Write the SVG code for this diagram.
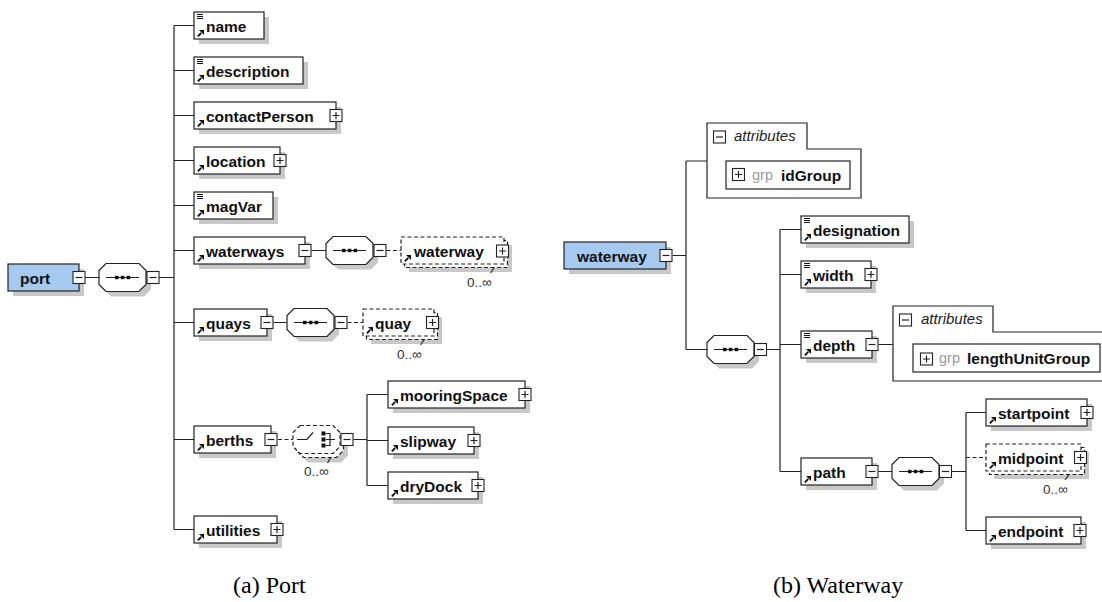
<svg xmlns="http://www.w3.org/2000/svg" width="1102" height="602" viewBox="0 0 1102 602">
<style>
.box{fill:#fff;stroke:#222;stroke-width:1.2}
.root{fill:#a6c9f0;stroke:#222;stroke-width:1.2}
.dbox{fill:#fff;stroke:#222;stroke-width:1.2;stroke-dasharray:4 2.5}
.sh{fill:#c8c8c8}
.ln{stroke:#222;stroke-width:1.2;fill:none}
.dl{stroke:#222;stroke-width:1.2;fill:none;stroke-dasharray:4 2.5}
.btn{fill:#fff;stroke:#222;stroke-width:1.1}
.t{font-family:"Liberation Sans",Arial,sans-serif;font-weight:bold;font-size:15.5px;fill:#111}
.it{font-family:"Liberation Sans",Arial,sans-serif;font-style:italic;font-size:15px;fill:#222}
.grp{font-family:"Liberation Sans",Arial,sans-serif;font-size:14.5px;fill:#9a9a9a}
.occ{font-family:"Liberation Sans",Arial,sans-serif;font-size:13.5px;fill:#333}
.cap{font-family:"Liberation Serif","Times New Roman",serif;font-size:24px;fill:#000}
</style>
<defs>
<g id="iDoc"><path d="M0,0.5h6M0,2.5h6M0,4.5h6" stroke="#111" stroke-width="1" fill="none"/></g>
<g id="iArr"><path d="M0.8,6.4 L4.2,3" stroke="#111" stroke-width="1.8" fill="none"/><path d="M2,0 H7 V5 Z" fill="#111"/></g>
<g id="bMinus"><rect x="0.5" y="0.5" width="12" height="12" class="btn"/><path d="M3,6.5h7" class="ln"/></g>
<g id="bPlus"><rect x="0.5" y="0.5" width="12" height="12" class="btn"/><path d="M3,6.5h7M6.5,3v7" class="ln"/></g>
<g id="seq">
<path d="M12,5 H45 L52,12 V26 L45,33 H12 L5,26 V12 Z" class="sh"/>
<path d="M7,0 H40 L47,7 V21 L40,28 H7 L0,21 V7 Z" class="box"/>
<path d="M7,14 H40" class="ln"/>
<rect x="16" y="12.3" width="3.6" height="3.4" fill="#111"/>
<rect x="21.8" y="12.3" width="3.6" height="3.4" fill="#111"/>
<rect x="27.6" y="12.3" width="3.6" height="3.4" fill="#111"/>
</g>
</defs>

<g id="connectors">
<!-- port -->
<path d="M85,277.5H99M159,277.5H174M174,25.5V529.5" class="ln"/>
<path d="M174,25.5H194M174,70.5H194M174,115.5H194M174,160.5H194M174,205.5H194M174,250.5H194M174,322.5H194M174,439.5H194M174,529.5H194" class="ln"/>
<path d="M311.5,250.5H326M273.5,322.5H287" class="ln"/>
<path d="M386.5,250.5H401M347.5,322.5H363M278,439.5H293" class="dl"/>
<path d="M353.5,439.5H367M367,394.5V485.5M367,394.5H388M367,440.5H388M367,485.5H388" class="ln"/>
<!-- waterway -->
<path d="M672.5,255.5H686M686,161V349.5M686,161H707M686,349.5H707M766.5,349.5H780M780,229.5V471.5" class="ln"/>
<path d="M780,229.5H801M780,274.5H801M780,344.5H801M780,471.5H801M878.5,344.5H893M878.5,471.5H892M951.5,471.5H966M966,412.5V530.5M966,412.5H986M966,530.5H986" class="ln"/>
<path d="M966,457.5H986" class="dl"/>
</g>

<g id="port">
<rect x="13" y="269" width="71" height="27" class="sh"/>
<rect x="8" y="264" width="71" height="27" class="root"/>
<text x="20" y="284" class="t">port</text>
<use href="#bMinus" x="72.5" y="271"/>
</g>
<g id="port-seq"><use href="#seq" x="99" y="263.5"/><use href="#bMinus" x="146.5" y="271"/></g>

<g id="name">
<rect x="199" y="17" width="70" height="27" class="sh"/>
<rect x="194" y="12" width="70" height="27" class="box"/>
<use href="#iDoc" x="197" y="14"/><use href="#iArr" x="197" y="30"/>
<text x="206" y="32" class="t">name</text>
</g>
<g id="description">
<rect x="199" y="62" width="109" height="27" class="sh"/>
<rect x="194" y="57" width="109" height="27" class="box"/>
<use href="#iDoc" x="197" y="59"/><use href="#iArr" x="197" y="75"/>
<text x="206" y="77" class="t">description</text>
</g>
<g id="contactPerson">
<rect x="199" y="107" width="142" height="27" class="sh"/>
<rect x="194" y="102" width="142" height="27" class="box"/>
<use href="#iArr" x="197" y="120"/>
<text x="206" y="122" class="t">contactPerson</text>
<use href="#bPlus" x="329.5" y="109"/>
</g>
<g id="location">
<rect x="199" y="152" width="86" height="27" class="sh"/>
<rect x="194" y="147" width="86" height="27" class="box"/>
<use href="#iArr" x="197" y="165"/>
<text x="206" y="167" class="t">location</text>
<use href="#bPlus" x="273.5" y="154"/>
</g>
<g id="magVar">
<rect x="199" y="197" width="79" height="27" class="sh"/>
<rect x="194" y="192" width="79" height="27" class="box"/>
<use href="#iDoc" x="197" y="194"/><use href="#iArr" x="197" y="210"/>
<text x="206" y="212" class="t">magVar</text>
</g>
<g id="waterways">
<rect x="199" y="242" width="111" height="27" class="sh"/>
<rect x="194" y="237" width="111" height="27" class="box"/>
<use href="#iArr" x="197" y="255"/>
<text x="206" y="257" class="t">waterways</text>
<use href="#bMinus" x="298.5" y="244"/>
</g>
<g id="waterways-seq"><use href="#seq" x="326" y="236.5"/><use href="#bMinus" x="373.5" y="244"/></g>
<g id="waterway-child">
<rect x="409" y="245" width="103" height="27" class="sh"/>
<rect x="404.5" y="240.5" width="103" height="27" class="dbox"/>
<rect x="401" y="237" width="103" height="27" class="dbox"/>
<use href="#iArr" x="404" y="255"/>
<text x="414" y="257" class="t">waterway</text>
<use href="#bPlus" x="496" y="244.5"/>
<path d="M494,268L490.5,273" class="ln"/>
<text x="467" y="287" class="occ">0..∞</text>
</g>
<g id="quays">
<rect x="199" y="314" width="73" height="27" class="sh"/>
<rect x="194" y="309" width="73" height="27" class="box"/>
<use href="#iArr" x="197" y="327"/>
<text x="206" y="329" class="t">quays</text>
<use href="#bMinus" x="260.5" y="316"/>
</g>
<g id="quays-seq"><use href="#seq" x="287" y="308.5"/><use href="#bMinus" x="334.5" y="316"/></g>
<g id="quay">
<rect x="371" y="317" width="71" height="27" class="sh"/>
<rect x="366.5" y="312.5" width="71" height="27" class="dbox"/>
<rect x="363" y="309" width="71" height="27" class="dbox"/>
<use href="#iArr" x="366" y="327"/>
<text x="375" y="329" class="t">quay</text>
<use href="#bPlus" x="426" y="316"/>
<path d="M424,340L420.5,345" class="ln"/>
<text x="397" y="359" class="occ">0..∞</text>
</g>
<g id="berths">
<rect x="199" y="431" width="77" height="27" class="sh"/>
<rect x="194" y="426" width="77" height="27" class="box"/>
<use href="#iArr" x="197" y="444"/>
<text x="206" y="446" class="t">berths</text>
<use href="#bMinus" x="264.5" y="433"/>
</g>
<g id="berths-choice">
<path d="M308,434.5 H341 L348,441.5 V455.5 L341,462.5 H308 L301,455.5 V441.5 Z" class="sh"/>
<path d="M303.5,429.5 H336.5 L343.5,436.5 V450.5 L336.5,457.5 H303.5 L296.5,450.5 V436.5 Z" class="dbox"/>
<path d="M300,425.5 H333 L340,432.5 V446.5 L333,453.5 H300 L293,446.5 V432.5 Z" class="dbox"/>
<path d="M297,439.5H307L313,432.5M326,433.5H330V445.5H326M326,439.5H335" class="ln"/>
<rect x="321.5" y="431.5" width="4" height="4" fill="#111"/>
<rect x="321.5" y="437.5" width="4" height="4" fill="#111"/>
<rect x="321.5" y="443.5" width="4" height="4" fill="#111"/>
<use href="#bMinus" x="340.5" y="433"/>
<path d="M331,457L327.5,463" class="ln"/>
<text x="304" y="476" class="occ">0..∞</text>
</g>
<g id="mooringSpace">
<rect x="393" y="386" width="137" height="27" class="sh"/>
<rect x="388" y="381" width="137" height="27" class="box"/>
<use href="#iArr" x="391" y="399"/>
<text x="400" y="401" class="t">mooringSpace</text>
<use href="#bPlus" x="518.5" y="388"/>
</g>
<g id="slipway">
<rect x="393" y="432" width="86" height="27" class="sh"/>
<rect x="388" y="427" width="86" height="27" class="box"/>
<use href="#iArr" x="391" y="445"/>
<text x="400" y="447" class="t">slipway</text>
<use href="#bPlus" x="467.5" y="434"/>
</g>
<g id="dryDock">
<rect x="393" y="477" width="90" height="27" class="sh"/>
<rect x="388" y="472" width="90" height="27" class="box"/>
<use href="#iArr" x="391" y="490"/>
<text x="400" y="492" class="t">dryDock</text>
<use href="#bPlus" x="471.5" y="479"/>
</g>
<g id="utilities">
<rect x="199" y="521" width="83" height="27" class="sh"/>
<rect x="194" y="516" width="83" height="27" class="box"/>
<use href="#iArr" x="197" y="534"/>
<text x="206" y="536" class="t">utilities</text>
<use href="#bPlus" x="270.5" y="523"/>
</g>

<g id="waterway">
<rect x="569" y="247" width="102" height="27" class="sh"/>
<rect x="564" y="242" width="102" height="27" class="root"/>
<text x="577" y="262" class="t">waterway</text>
<use href="#bMinus" x="659.5" y="249"/>
</g>
<g id="waterway-attributes">
<path d="M707,198V123H807V149H861V198Z" class="box"/>
<use href="#bMinus" x="713" y="130.5"/>
<text x="734" y="141" class="it">attributes</text>
<rect x="726" y="161" width="124" height="28" class="box"/>
<use href="#bPlus" x="732" y="168"/>
<text x="752" y="180" class="grp">grp</text>
<text x="781" y="181" class="t">idGroup</text>
</g>
<g id="waterway-seq"><use href="#seq" x="707" y="335.5"/><use href="#bMinus" x="754" y="343"/></g>
<g id="designation">
<rect x="806" y="221" width="108" height="27" class="sh"/>
<rect x="801" y="216" width="108" height="27" class="box"/>
<use href="#iDoc" x="804" y="218"/><use href="#iArr" x="804" y="234"/>
<text x="813" y="236" class="t">designation</text>
</g>
<g id="width">
<rect x="806" y="266" width="70" height="27" class="sh"/>
<rect x="801" y="261" width="70" height="27" class="box"/>
<use href="#iDoc" x="804" y="263"/><use href="#iArr" x="804" y="279"/>
<text x="813" y="281" class="t">width</text>
<use href="#bPlus" x="864.5" y="268"/>
</g>
<g id="depth">
<rect x="806" y="336" width="71" height="27" class="sh"/>
<rect x="801" y="331" width="71" height="27" class="box"/>
<use href="#iDoc" x="804" y="333"/><use href="#iArr" x="804" y="349"/>
<text x="813" y="351" class="t">depth</text>
<use href="#bMinus" x="865.5" y="338"/>
</g>
<g id="depth-attributes">
<path d="M893,381V306H993V332H1108V381Z" class="box"/>
<use href="#bMinus" x="899" y="313.5"/>
<text x="921" y="324" class="it">attributes</text>
<rect x="913" y="344" width="187" height="28" class="box"/>
<use href="#bPlus" x="920" y="352.5"/>
<text x="939" y="363" class="grp">grp</text>
<text x="967" y="364" class="t">lengthUnitGroup</text>
</g>
<g id="path">
<rect x="806" y="463" width="71" height="27" class="sh"/>
<rect x="801" y="458" width="71" height="27" class="box"/>
<use href="#iArr" x="804" y="476"/>
<text x="813" y="478" class="t">path</text>
<use href="#bMinus" x="865.5" y="465"/>
</g>
<g id="path-seq"><use href="#seq" x="892" y="457.5"/><use href="#bMinus" x="939" y="465"/></g>
<g id="startpoint">
<rect x="991" y="404" width="101" height="27" class="sh"/>
<rect x="986" y="399" width="101" height="27" class="box"/>
<use href="#iArr" x="989" y="417"/>
<text x="998" y="419" class="t">startpoint</text>
<use href="#bPlus" x="1080.5" y="406"/>
</g>
<g id="midpoint">
<rect x="994" y="452" width="95" height="27" class="sh"/>
<rect x="989.5" y="447.5" width="95" height="27" class="dbox"/>
<rect x="986" y="444" width="95" height="27" class="dbox"/>
<use href="#iArr" x="989" y="462"/>
<text x="998" y="464" class="t">midpoint</text>
<use href="#bPlus" x="1074" y="451"/>
<path d="M1069,474.5L1065,480" class="ln"/>
<text x="1043" y="494" class="occ">0..∞</text>
</g>
<g id="endpoint">
<rect x="991" y="522" width="95" height="27" class="sh"/>
<rect x="986" y="517" width="95" height="27" class="box"/>
<use href="#iArr" x="989" y="535"/>
<text x="998" y="537" class="t">endpoint</text>
<use href="#bPlus" x="1073.5" y="524"/>
</g>

<text x="233" y="593" class="cap">(a) Port</text>
<text x="773" y="593" class="cap">(b) Waterway</text>
</svg>
